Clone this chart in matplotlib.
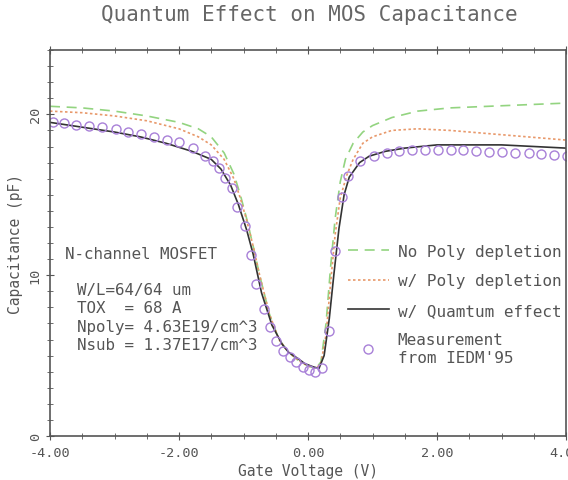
import matplotlib
matplotlib.use('Agg')
import matplotlib.pyplot as plt
from matplotlib.ticker import MultipleLocator

# gate voltage (V) / capacitance (pF)
v_nopoly = [-4.0, -3.5, -3.0, -2.5, -2.0, -1.7, -1.5, -1.3, -1.15, -1.05, -0.95, -0.85, -0.75,
            -0.6, -0.45, -0.3, -0.15, 0.0, 0.12, 0.2, 0.28, 0.35, 0.42, 0.5, 0.58, 0.7, 0.85,
            1.0, 1.3, 1.7, 2.2, 2.8, 3.4, 4.0]
c_nopoly = [20.5, 20.4, 20.2, 19.9, 19.5, 19.1, 18.6, 17.6, 16.3, 15.0, 13.5, 11.8, 10.0,
            7.6, 6.0, 5.2, 4.7, 4.35, 4.2, 4.6, 7.0, 10.5, 13.5, 15.8, 17.2, 18.2, 18.9,
            19.3, 19.8, 20.2, 20.4, 20.5, 20.6, 20.7]

v_poly = [-4.0, -3.5, -3.0, -2.5, -2.0, -1.7, -1.5, -1.3, -1.15, -1.05, -0.95, -0.85, -0.75,
          -0.6, -0.45, -0.3, -0.15, 0.0, 0.12, 0.2, 0.28, 0.35, 0.42, 0.5, 0.6, 0.7, 0.85,
          1.0, 1.3, 1.7, 2.2, 2.8, 3.4, 4.0]
c_poly = [20.2, 20.1, 19.9, 19.6, 19.1, 18.6, 18.1, 17.2, 16.0, 14.8, 13.4, 11.8, 10.0,
          7.6, 6.0, 5.2, 4.7, 4.35, 4.2, 4.5, 6.3, 9.5, 12.5, 14.8, 16.2, 17.2, 18.2,
          18.6, 19.0, 19.1, 19.0, 18.8, 18.6, 18.4]

v_qm = [-4.0, -3.5, -3.0, -2.6, -2.2, -1.8, -1.5, -1.35, -1.2, -1.08, -0.95, -0.85, -0.72,
        -0.56, -0.4, -0.3, -0.15, -0.05, 0.08, 0.17, 0.25, 0.33, 0.4, 0.48, 0.56, 0.64,
        0.8, 0.95, 1.2, 1.5, 2.0, 2.5, 3.0, 3.5, 4.0]
c_qm = [19.5, 19.2, 18.9, 18.6, 18.2, 17.7, 17.2, 16.6, 15.6, 14.4, 12.8, 11.3, 8.9,
        6.9, 5.7, 5.2, 4.8, 4.5, 4.3, 4.2, 5.0, 7.3, 10.0, 12.9, 15.0, 16.1,
        17.0, 17.4, 17.7, 17.9, 18.1, 18.1, 18.1, 18.0, 17.9]

v_meas = [-3.95, -3.79, -3.60, -3.39, -3.19, -2.98, -2.79, -2.59, -2.38, -2.19, -2.00, -1.79,
          -1.59, -1.48, -1.38, -1.28, -1.18, -1.10, -0.98, -0.89, -0.80, -0.68, -0.59, -0.50,
          -0.38, -0.28, -0.19, -0.08, 0.02, 0.11, 0.22, 0.33, 0.42, 0.52, 0.62, 0.81, 1.02,
          1.22, 1.41, 1.62, 1.81, 2.01, 2.21, 2.41, 2.60, 2.81, 3.01, 3.21, 3.42, 3.61, 3.82,
          4.01]
c_meas = [19.55, 19.47, 19.36, 19.26, 19.20, 19.09, 18.92, 18.78, 18.58, 18.41, 18.27, 17.89,
          17.39, 17.12, 16.65, 16.06, 15.40, 14.22, 13.03, 11.24, 9.45, 7.90, 6.76, 5.89,
          5.30, 4.89, 4.58, 4.27, 4.12, 4.00, 4.21, 6.51, 11.52, 14.84, 16.19, 17.12, 17.43,
          17.60, 17.74, 17.80, 17.80, 17.80, 17.80, 17.77, 17.72, 17.68, 17.64, 17.60, 17.60,
          17.54, 17.49, 17.43]

x_ticks = [-4, -2, 0, 2, 4]
x_labels = ['-4.00', '-2.00', '0.00', '2.00', '4.00']
y_ticks = [0, 10, 20]
y_labels = ['0', '10', '20']

device_info = ['W/L=64/64 um', 'TOX  = 68 A', 'Npoly= 4.63E19/cm^3', 'Nsub = 1.37E17/cm^3']

plt.rcParams['font.family'] = ['DejaVu Sans Mono']
txt = '#555555'
fig = plt.figure(figsize=(5.68, 4.81), dpi=100)
ax = fig.add_axes([50 / 568, 44 / 481, 516 / 568, 386 / 481])

ax.plot(v_nopoly, c_nopoly, color='#93d480', ls=(0, (6, 4)), lw=1.2, label='No Poly depletion')
ax.plot(v_poly, c_poly, color='#e8986a', ls=(0, (1.5, 1.5)), lw=1.2, label='w/ Poly depletion')
ax.plot(v_qm, c_qm, color='#333333', lw=1.2, label='w/ Quamtum effect')
ax.plot(v_meas, c_meas, ls='none', marker='o', mfc='none', mec='#a880d8', ms=6.5, mew=1.0,
        label="Measurement\nfrom IEDM'95")

ax.set_xlim(-4, 4)
ax.set_ylim(0, 24)
ax.set_xticks(x_ticks)
ax.set_xticklabels(x_labels)
ax.set_yticks(y_ticks)
ax.set_yticklabels(y_labels, rotation=90, va='center')
ax.xaxis.set_minor_locator(MultipleLocator(0.5))
ax.yaxis.set_minor_locator(MultipleLocator(1))
ax.tick_params(which='both', direction='inout', top=True, right=False, colors='#555555',
               labelsize=9.7, labelcolor=txt)
ax.tick_params(which='major', length=6)
ax.tick_params(which='minor', length=4)
ax.tick_params(axis='x', pad=4)
ax.tick_params(axis='y', pad=3)
for s in ax.spines.values():
    s.set_color('#555555')
    s.set_linewidth(1.2)

ax.set_xlabel('Gate Voltage (V)', fontsize=10.5, color=txt, labelpad=3)
ax.set_ylabel('Capacitance (pF)', fontsize=10.5, color=txt, labelpad=4)
fig.text(309 / 568, 1 - 15 / 481, 'Quantum Effect on MOS Capacitance', fontsize=15,
         color='#666666', ha='center', va='center')

ax.text(15 / 516, 182 / 386, 'N-channel MOSFET', transform=ax.transAxes, fontsize=11.4,
        color=txt, va='center')
ax.text(27 / 516, 119 / 386, '\n'.join(device_info), transform=ax.transAxes, fontsize=11.4,
        color=txt, va='center', linespacing=1.27)

ax.legend(loc='upper left', bbox_to_anchor=(348 / 568, 1 - 245 / 481),
          bbox_transform=fig.transFigure, frameon=False, fontsize=11.5, labelcolor=txt,
          handlelength=2.55, handletextpad=0.55, labelspacing=0.9, borderpad=0,
          borderaxespad=0, numpoints=1)

fig.savefig('out.png', dpi=100)
